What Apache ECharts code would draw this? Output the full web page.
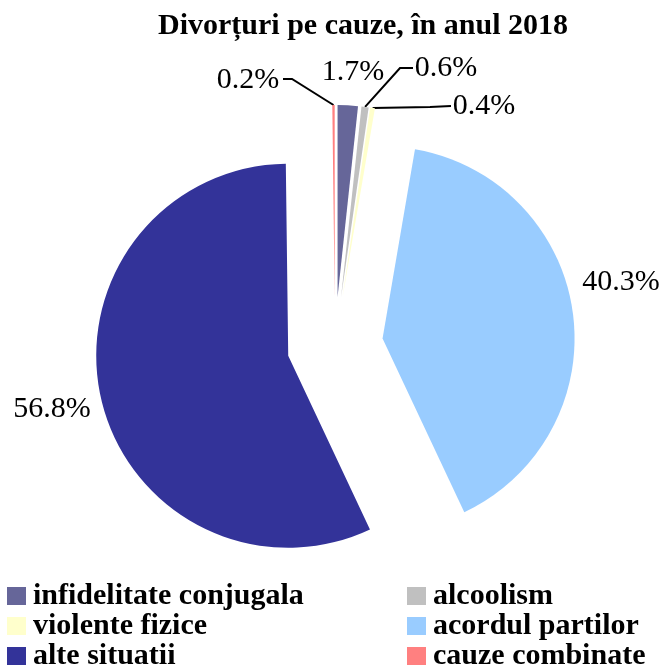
<!DOCTYPE html>
<html>
<head>
<meta charset="utf-8">
<script src="https://cdn.jsdelivr.net/npm/echarts@6/dist/echarts.min.js"></script>
<style>
  html, body { margin: 0; padding: 0; background: #fff; }
  #chart { width: 662px; height: 666px; }
</style>
</head>
<body>
<div id="chart"></div>
<script>
const categories = [
  'infidelitate conjugala',
  'alcoolism',
  'violente fizice',
  'acordul partilor',
  'alte situatii',
  'cauze combinate'
]
const values = [1.7, 0.6, 0.4, 40.3, 56.8, 0.2]
const colors = ['#666699', '#C0C0C0', '#FFFFCC', '#99CCFF', '#333399', '#FF8080']

// label centres and leader-line bends (pixels), per slice
const labelPos = [
  { x: 353, y: 72, line: null },
  { x: 446, y: 68, line: [[400, 68], [413, 68]] },
  { x: 484, y: 106, line: [[430, 107], [451, 106]] },
  { x: 621, y: 282, line: null },
  { x: 52, y: 409, line: null },
  { x: 248, y: 80, line: [[292, 79], [283, 79]] }
]

const pieCenter = [335, 345]
const pieRadius = 192
const explode = 48

const myChart = echarts.init(document.getElementById('chart'))

const legendText = {
  fontFamily: 'Liberation Serif',
  fontWeight: 'bold',
  fontSize: 30,
  color: '#000',
  lineHeight: 30,
  padding: [0, 0, 0, 2]
}

const total = values.reduce((a, b) => a + b, 0)

// every slice is its own pie, pulled out from the centre along its mid angle
let cum = 0
const series = categories.map((name, i) => {
  const a0 = cum / total * 360
  const a1 = (cum + values[i]) / total * 360
  cum += values[i]
  const mid = (a0 + a1) / 2 * Math.PI / 180
  return {
    type: 'pie',
    center: [pieCenter[0] + explode * Math.sin(mid), pieCenter[1] - explode * Math.cos(mid)],
    radius: [0, pieRadius],
    startAngle: 90 - a0,
    endAngle: 90 - a1,
    clockwise: true,
    avoidLabelOverlap: false,
    emphasis: { disabled: true },
    data: [{ name: name, value: values[i], itemStyle: { color: colors[i] } }],
    label: {
      show: true,
      position: 'outside',
      formatter: (p) => p.value.toFixed(1) + '%',
      fontFamily: 'Liberation Serif',
      fontSize: 30,
      color: '#000'
    },
    labelLine: {
      show: labelPos[i].line !== null,
      lineStyle: { color: '#000', width: 2 }
    },
    labelLayout: function (p) {
      const pos = labelPos[i]
      const res = { x: pos.x, y: pos.y, align: 'center', verticalAlign: 'middle' }
      if (pos.line && p.labelLinePoints) {
        res.labelLinePoints = [p.labelLinePoints[0], pos.line[0], pos.line[1]]
      }
      return res
    }
  }
})

const option = {
  animation: false,
  title: {
    text: 'Divorțuri pe cauze, în anul 2018',
    left: 358,
    top: 6,
    textAlign: 'center',
    textStyle: {
      fontFamily: 'Liberation Serif',
      fontWeight: 'bold',
      fontSize: 30,
      color: '#000'
    }
  },
  legend: [
    {
      orient: 'vertical',
      left: 7,
      top: 581,
      height: 100,
      padding: 0,
      icon: 'rect',
      itemWidth: 19,
      itemHeight: 18,
      itemGap: 0,
      selectedMode: false,
      data: [categories[0], categories[2], categories[4]],
      textStyle: legendText
    },
    {
      orient: 'vertical',
      left: 407,
      top: 581,
      height: 100,
      padding: 0,
      icon: 'rect',
      itemWidth: 19,
      itemHeight: 18,
      itemGap: 0,
      selectedMode: false,
      data: [categories[1], categories[3], categories[5]],
      textStyle: legendText
    }
  ],
  series: series
}

myChart.setOption(option)
</script>
</body>
</html>
